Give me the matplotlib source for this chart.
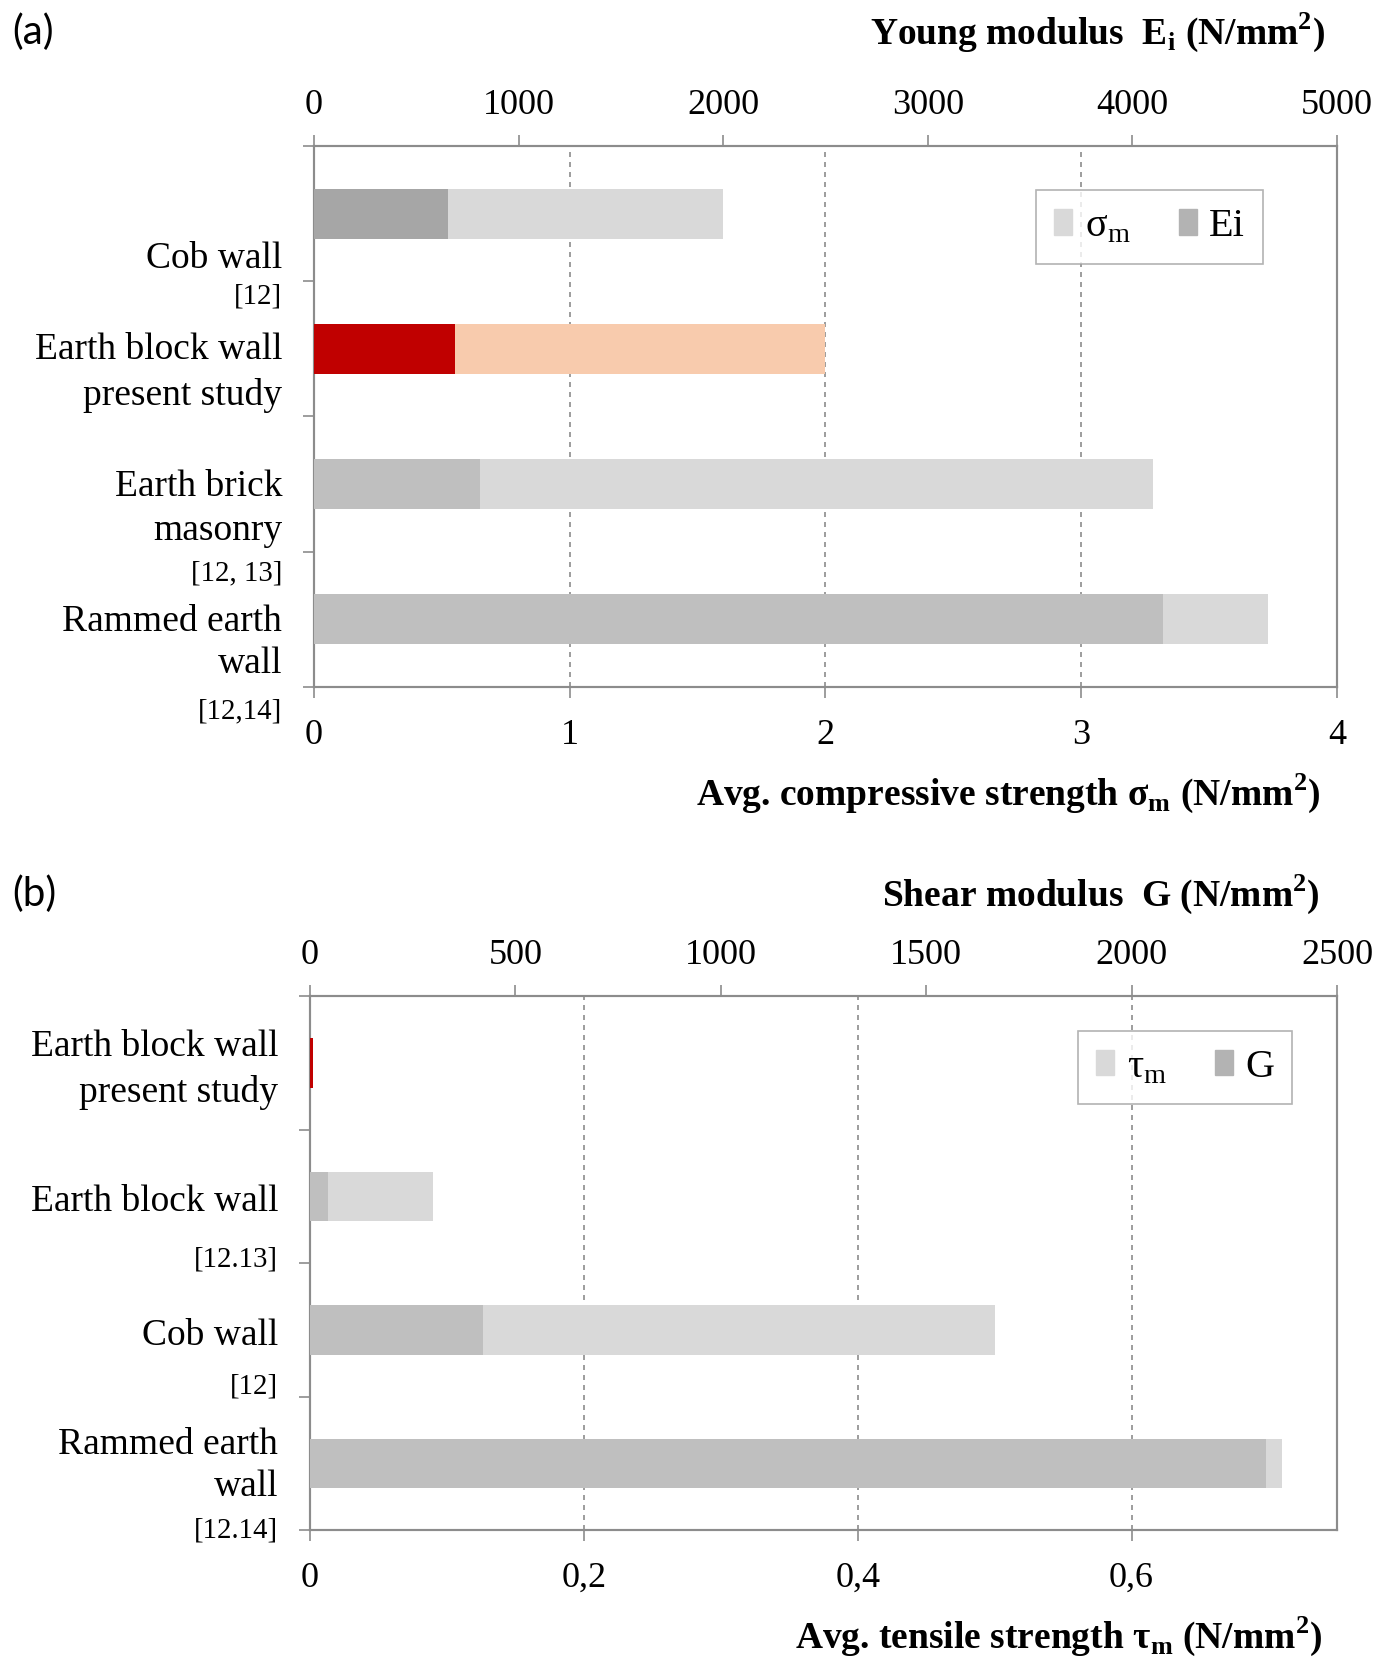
import matplotlib
matplotlib.use("Agg")
import matplotlib.pyplot as plt
from matplotlib.patches import Patch

plt.rcParams['font.family'] = ['Liberation Serif', 'DejaVu Serif']
plt.rcParams['mathtext.fontset'] = 'custom'
plt.rcParams['mathtext.rm'] = 'Liberation Serif'

# (a) compressive strength / Young modulus
walls_a = ["Cob wall", "Earth block wall", "Earth brick", "Rammed earth"]
label_lines_a = [["Cob wall", "[12]"],
                 ["Earth block wall", "present study"],
                 ["Earth brick", "masonry", "[12, 13]"],
                 ["Rammed earth", "wall", "[12,14]"]]
sigma_m = [1.6, 2.0, 3.28, 3.73]          # N/mm2, bottom axis
young_E = [655, 690, 810, 4150]           # N/mm2, top axis

# (b) tensile strength / shear modulus
walls_b = ["Earth block wall", "Earth block wall", "Cob wall", "Rammed earth"]
label_lines_b = [["Earth block wall", "present study"],
                 ["Earth block wall", "[12.13]"],
                 ["Cob wall", "[12]"],
                 ["Rammed earth", "wall", "[12.14]"]]
tau_m = [0.002, 0.09, 0.50, 0.71]
shear_G = [8, 44, 422, 2327]

ticks_bot_a = [0, 1, 2, 3, 4]
ticks_top_a = [0, 1000, 2000, 3000, 4000, 5000]
ticks_bot_b = [0, 0.2, 0.4, 0.6]
ticklbl_bot_b = ["0", "0,2", "0,4", "0,6"]
ticks_top_b = [0, 500, 1000, 1500, 2000, 2500]

LIGHT = "#d9d9d9"
DARK = "#bfbfbf"
DARK_COB = "#a6a6a6"
RED = "#c00000"
PEACH = "#f8cbad"
SPINE = "#8c8c8c"
FS = 26

fig = plt.figure(figsize=(13.93, 16.59), dpi=100)


def panel(rect, light_vals, dark_vals, light_cols, dark_cols, xmax_b, xmax_t,
          tb, tt, tb_lbl, lines, line_pos, leg_labels, leg_bbox):
    ax = fig.add_axes(rect)
    n = len(light_vals)
    ypos = list(range(n))
    h = 0.37
    ax.barh(ypos, light_vals, height=h, color=light_cols, zorder=2)
    ax.set_xlim(0, xmax_b)
    ax.set_ylim(n - 0.5, -0.5)
    ax.set_xticks(tb)
    ax.set_xticklabels(tb_lbl if tb_lbl else [str(t) for t in tb], fontsize=FS)
    ax.set_yticks([i - 0.5 for i in range(n + 1)])
    ax.set_yticklabels([])
    ax.tick_params(axis='y', length=8, color=SPINE, width=1.2)
    ax.tick_params(axis='x', length=8, color=SPINE, width=1.2, pad=15)
    ax.grid(axis='x', linestyle=(0, (3, 3)), color="#8c8c8c", linewidth=1.2)
    ax.set_axisbelow(True)
    for s in ax.spines.values():
        s.set_color(SPINE)
        s.set_linewidth(1.5)

    top = ax.twiny()
    top.barh(ypos, dark_vals, height=h, color=dark_cols, zorder=3)
    top.set_xlim(0, xmax_t)
    top.set_ylim(n - 0.5, -0.5)
    top.set_xticks(tt)
    top.set_xticklabels([str(t) for t in tt], fontsize=FS)
    top.tick_params(axis='x', length=8, color=SPINE, width=1.2, pad=9)
    for s in top.spines.values():
        s.set_color(SPINE)
        s.set_linewidth(1.5)

    # category labels, one text per line
    tr = ax.get_yaxis_transform()
    for lns, ys in zip(lines, line_pos):
        for txt, yy in zip(lns, ys):
            small = txt.startswith("[")
            ax.text(-0.031, yy, txt, transform=tr, ha='right', va='center',
                    fontsize=FS * 0.8 if small else FS + 1)

    handles = [Patch(color=LIGHT), Patch(color="#b3b3b3")]
    leg = top.legend(handles, leg_labels, loc='upper left', bbox_to_anchor=leg_bbox,
                     ncol=2, fontsize=FS + 3, frameon=True, fancybox=False,
                     handlelength=0.45, handleheight=0.6, handletextpad=0.3,
                     columnspacing=1.2, borderpad=0.45, borderaxespad=0)
    leg.get_frame().set_edgecolor("#a0a0a0")
    leg.get_frame().set_linewidth(1.2)
    return ax, top


cols_a_light = [LIGHT, PEACH, LIGHT, LIGHT]
cols_a_dark = [DARK_COB, RED, DARK, DARK]
pos_a = [[0.335, 0.616], [1.009, 1.342], [2.021, 2.347, 2.657], [3.019, 3.33, 3.677]]
panel([0.2254, 0.5859, 0.7344, 0.3261], sigma_m, young_E, cols_a_light, cols_a_dark,
      4, 5000, ticks_bot_a, ticks_top_a, None, label_lines_a, pos_a,
      ["σ$_\\mathregular{m}$", "Ei"], (0.706, 0.918))

cols_b_light = [PEACH, LIGHT, LIGHT, LIGHT]
cols_b_dark = [RED, DARK, DARK, DARK]
pos_b = [[-0.118, 0.226], [1.043, 1.47], [2.047, 2.421], [2.863, 3.178, 3.5]]
panel([0.2225, 0.0777, 0.7373, 0.3219], tau_m, shear_G, cols_b_light, cols_b_dark,
      0.75, 2500, ticks_bot_b, ticks_top_b, ticklbl_bot_b, label_lines_b, pos_b,
      ["τ$_\\mathregular{m}$", "G"], (0.748, 0.935))

# panel letters and axis titles
fig.text(0.009, 0.9807, "(a)", fontsize=FS + 3, family='Lato', va='center')
fig.text(0.009, 0.4612, "(b)", fontsize=FS + 3, family='Lato', va='center')
fig.text(0.951, 0.9807, "Young modulus  E$_\\mathregular{i}$ (N/mm$^\\mathregular{2}$)",
         fontsize=FS + 1, fontweight='bold', ha='right', va='center')
fig.text(0.9476, 0.522, "Avg. compressive strength σ$_\\mathregular{m}$ (N/mm$^\\mathregular{2}$)",
         fontsize=FS + 1, fontweight='bold', ha='right', va='center')
fig.text(0.9476, 0.4612, "Shear modulus  G (N/mm$^\\mathregular{2}$)",
         fontsize=FS + 1, fontweight='bold', ha='right', va='center')
fig.text(0.949, 0.0139, "Avg. tensile strength τ$_\\mathregular{m}$ (N/mm$^\\mathregular{2}$)",
         fontsize=FS + 1, fontweight='bold', ha='right', va='center')

fig.savefig("out.png", dpi=100, facecolor="white")
